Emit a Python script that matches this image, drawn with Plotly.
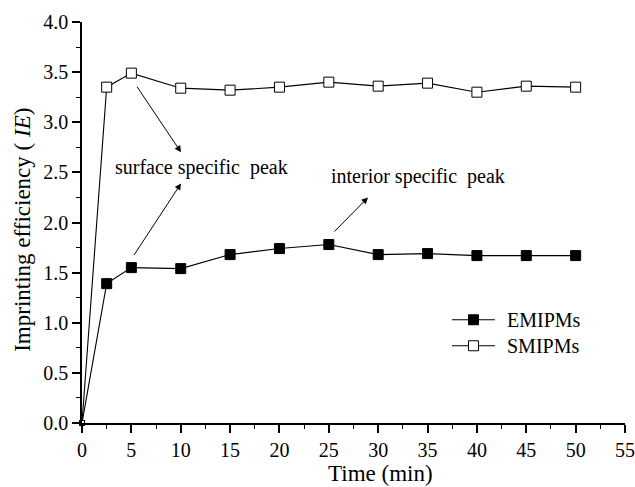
import plotly.graph_objects as go

time_min = [0, 2.5, 5, 10, 15, 20, 25, 30, 35, 40, 45, 50]
emipms = [0.0, 1.39, 1.55, 1.54, 1.68, 1.74, 1.78, 1.68, 1.69, 1.67, 1.67, 1.67]
smipms = [0.0, 3.35, 3.49, 3.34, 3.32, 3.35, 3.40, 3.36, 3.39, 3.30, 3.36, 3.35]

x_ticks = [0, 5, 10, 15, 20, 25, 30, 35, 40, 45, 50, 55]
y_ticks = [0.0, 0.5, 1.0, 1.5, 2.0, 2.5, 3.0, 3.5, 4.0]

series_names = ["EMIPMs", "SMIPMs"]
series_fill = ["black", "white"]

FONT = "Liberation Serif, Times New Roman, serif"
msize = [5] + [10] * (len(time_min) - 1)

fig = go.Figure()
for name, vals, fill in zip(series_names, [emipms, smipms], series_fill):
    fig.add_trace(go.Scatter(
        x=time_min, y=vals, name=name, mode="lines+markers",
        line=dict(color="black", width=1.1),
        marker=dict(symbol="square", size=msize, color=fill, opacity=1,
                    line=dict(color="black", width=1)),
        cliponaxis=False, showlegend=False,
    ))

arrows = [
    # (tail_x, tail_y, head_x, head_y)
    (5.47, 3.37, 10.03, 2.70),
    (5.17, 1.66, 10.03, 2.39),
    (25.42, 1.895, 28.97, 2.25),
]
for tx, ty, hx, hy in arrows:
    fig.add_annotation(x=hx, y=hy, ax=tx, ay=ty, xref="x", yref="y", axref="x", ayref="y",
                       text="", showarrow=True, arrowhead=2, arrowsize=1.3, arrowwidth=1,
                       arrowcolor="black")

fig.add_annotation(x=12.10, y=2.553, xref="x", yref="y", text="surface specific&nbsp; peak",
                   showarrow=False, font=dict(family=FONT, size=20, color="black"))
fig.add_annotation(x=34.01, y=2.458, xref="x", yref="y", text="interior specific&nbsp; peak",
                   showarrow=False, font=dict(family=FONT, size=20, color="black"))

# axis titles
fig.add_annotation(x=0.5506, y=-0.127, xref="paper", yref="paper", text="Time (min)",
                   showarrow=False, xanchor="center", yanchor="middle",
                   font=dict(family=FONT, size=23, color="black"))
fig.add_annotation(x=-0.1087, y=0.4817, xref="paper", yref="paper",
                   text="Imprinting efficiency ( <i>IE</i>)", textangle=-90,
                   showarrow=False, xanchor="center", yanchor="middle",
                   font=dict(family=FONT, size=23, color="black"))

# legend (drawn manually to match the sample line length)
leg_y = [0.2574, 0.1926]
for name, fill, ly in zip(series_names, series_fill, leg_y):
    fig.add_shape(type="line", xref="paper", yref="paper", x0=0.6814, x1=0.7606, y0=ly, y1=ly,
                  line=dict(color="black", width=1.1))
    fig.add_shape(type="rect", xref="paper", yref="paper", x0=0.721 - 0.0092, x1=0.721 + 0.0092,
                  y0=ly - 0.01246, y1=ly + 0.01246, fillcolor=fill, line=dict(color="black", width=1))
    fig.add_annotation(x=0.779, y=ly, xref="paper", yref="paper", text=name, showarrow=False,
                       xanchor="left", yanchor="middle", font=dict(family=FONT, size=20, color="black"))

axis_common = dict(
    showline=True, linecolor="black", linewidth=1.6, showgrid=False, zeroline=False,
    ticks="outside", ticklen=8, tickwidth=1.5, tickcolor="black",
    tickfont=dict(family=FONT, size=20, color="black"),
    mirror=False, automargin=False,
)
fig.update_xaxes(range=[0, 55], tickvals=x_ticks, ticktext=[str(v) for v in x_ticks],
                 minor=dict(ticks="outside", ticklen=4, tickwidth=1.3, tickcolor="black", dtick=2.5, tick0=0),
                 **axis_common)
fig.update_yaxes(range=[0, 4.0], tickvals=y_ticks, ticktext=[f"{v:.1f}" for v in y_ticks],
                 minor=dict(ticks="outside", ticklen=4, tickwidth=1.3, tickcolor="black", dtick=0.25, tick0=0),
                 **axis_common)

fig.update_layout(
    width=635, height=487,
    margin=dict(l=82, r=10, t=22, b=64),
    plot_bgcolor="white", paper_bgcolor="white",
    showlegend=False,
)

fig.write_html("out.html", config={"displayModeBar": False},
               post_script="document.body.style.margin='0px';document.body.style.overflow='hidden';")
